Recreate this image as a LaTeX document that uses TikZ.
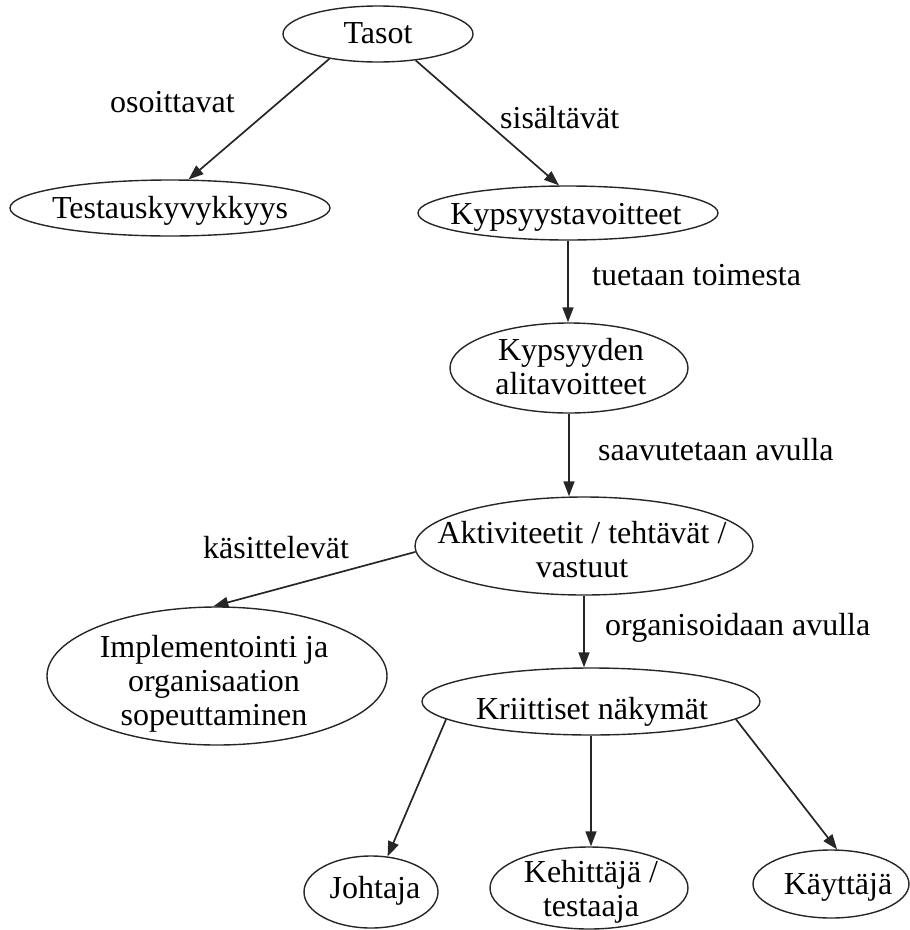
\documentclass[tikz,border=0pt]{standalone}
\usepackage{fontspec}
\setmainfont{Liberation Serif}
\usetikzlibrary{shapes.geometric,arrows.meta,calc}
\begin{document}
\begin{tikzpicture}[x=1pt,y=-1pt,
  ell/.style={draw=black!85, line width=1.4pt, ellipse, inner sep=0pt},
  txt/.style={font=\fontsize{32}{34}\selectfont, align=center, inner sep=0pt},
  lbl/.style={font=\fontsize{32}{34}\selectfont, inner sep=0pt, anchor=base west},
  arr/.style={draw=black!85, line width=1.7pt, -{Triangle[length=15pt,width=11pt]}}]
\useasboundingbox (0,0) rectangle (910,930);
% ellipses
\node[ell, minimum width=190, minimum height=56] (tasot) at (378,34) {};
\node[ell, minimum width=320, minimum height=56] (testaus) at (170,208) {};
\node[ell, minimum width=300, minimum height=54] (kyps) at (568,213) {};
\node[ell, minimum width=238, minimum height=90] (alita) at (569,368) {};
\node[ell, minimum width=338, minimum height=98] (akti) at (584,546) {};
\node[ell, minimum width=340, minimum height=138] (impl) at (217,676) {};
\node[ell, minimum width=338, minimum height=67] (krii) at (591,701.5) {};
\node[ell, minimum width=134, minimum height=72] (johtaja) at (371,892) {};
\node[ell, minimum width=198, minimum height=82] (kehit) at (589,888) {};
\node[ell, minimum width=156, minimum height=68] (kaytt) at (831,884) {};
% texts
\node[txt] (tasot-t) at (378,33) {Tasot};
\node[txt] (testaus-t) at (170,211) {Testauskyvykkyys};
\node[txt] (kyps-t) at (566,217) {Kypsyystavoitteet};
\node[txt] (alita-t) at (571,367) {Kypsyyden\\alitavoitteet};
\node[txt] (akti-t) at (582,550) {Aktiviteetit / tehtävät /\\vastuut};
\node[txt] (impl-t) at (214,684) {Implementointi ja\\organisaation\\sopeuttaminen};
\node[txt] (krii-t) at (592,712) {Kriittiset näkymät};
\node[txt] (johtaja-t) at (375,891) {Johtaja};
\node[txt] (kehit-t) at (591,892) {Kehittäjä /\\testaaja};
\node[txt] (kaytt-t) at (838,887) {Käyttäjä};
% edges
\draw[arr] (tasot.207) -- (testaus.57);
\draw[arr] (tasot.325) -- (kyps.108);
\draw[arr] (kyps.south) -- (kyps.south |- alita.north);
\draw[arr] (alita.south) -- (alita.south |- akti.north);
\draw[arr] (akti.182) -- (impl.93);
\draw[arr] (akti.south) -- (akti.south |- krii.north);
\draw[arr] (krii.187) -- (johtaja.65);
\draw[arr] (krii.south) -- (krii.south |- kehit.north);
\draw[arr] (krii.-7) -- (kaytt.80);
% edge labels
\node[lbl] (l1) at (110,112) {osoittavat};
\node[lbl] (l2) at (500,128) {sisältävät};
\node[lbl] (l3) at (592,285) {tuetaan toimesta};
\node[lbl] (l4) at (598,460) {saavutetaan avulla};
\node[lbl] (l5) at (203,558) {käsittelevät};
\node[lbl] (l6) at (605,635) {organisoidaan avulla};
\end{tikzpicture}
\end{document}
